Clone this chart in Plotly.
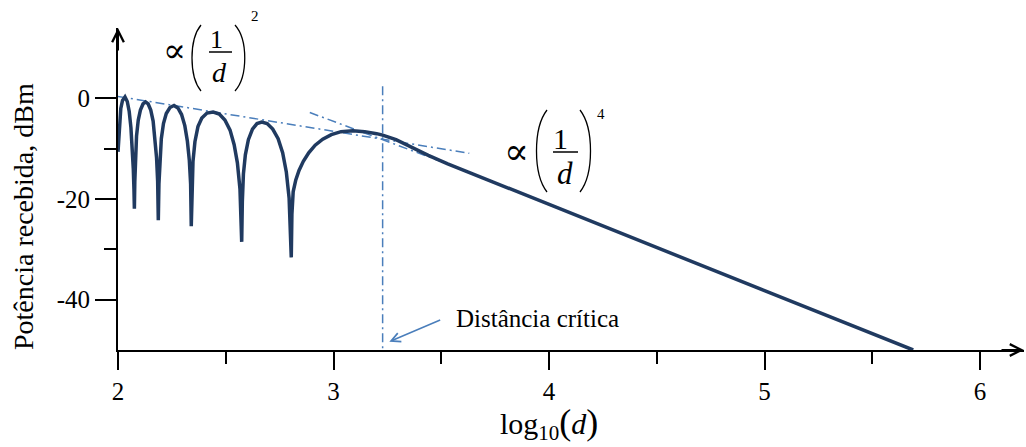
import plotly.graph_objects as go

# Received power vs log10(d): two-ray interference lobes, then the 1/d^4 fall-off
log_d = [
    2.000, 2.006, 2.013, 2.021, 2.0325, 2.043, 2.052, 2.060, 2.066, 2.071, 2.074, 2.076,
    2.078, 2.081, 2.086, 2.094, 2.104, 2.116, 2.128, 2.140, 2.152, 2.163, 2.172, 2.179, 2.184, 2.187,
    2.190, 2.194, 2.201, 2.211, 2.224, 2.241, 2.260, 2.278, 2.295, 2.310, 2.322, 2.331, 2.337, 2.340,
    2.343, 2.348, 2.357, 2.371, 2.389, 2.413, 2.442, 2.470, 2.496, 2.520, 2.539, 2.554, 2.566, 2.574,
    2.577, 2.582, 2.591, 2.605, 2.624, 2.645, 2.667, 2.692, 2.718, 2.743, 2.764, 2.781, 2.794, 2.804,
    2.807, 2.813, 2.825, 2.840, 2.860, 2.885, 2.915, 2.950, 2.990, 3.035, 3.090, 3.145, 3.200, 3.228,
    3.290, 3.360, 3.440, 3.530, 4.000, 5.000, 5.690,
]
potencia_dbm = [
    -10.6, -5.0, -2.0, -0.4, 0.3, -0.6, -2.6, -5.8, -9.5, -14.0, -18.0, -21.9,
    -16.5, -11.5, -7.5, -4.3, -2.3, -1.1, -0.7, -1.1, -2.3, -4.5, -7.8, -11.8, -16.5, -24.2,
    -17.0, -12.0, -8.0, -5.0, -3.0, -1.8, -1.4, -1.9, -3.2, -5.4, -8.5, -12.3, -17.0, -25.4,
    -17.5, -12.5, -8.6, -5.6, -3.9, -2.9, -2.7, -3.1, -4.3, -6.3, -9.2, -12.8, -18.0, -28.5,
    -20.5, -15.0, -11.2, -8.2, -6.1, -5.0, -4.7, -5.0, -6.1, -8.0, -10.8, -14.6, -19.8, -31.6,
    -23.0, -18.5, -16.2, -14.3, -12.5, -10.8, -9.3, -8.1, -7.2, -6.6, -6.4, -6.6, -7.0, -7.3,
    -8.2, -9.7, -11.3, -13.0, -21.1, -38.2, -50.0,
]

# Asymptotes: 1/d^2 envelope and 1/d^4 tangent
assint_d2_x = [2.0, 3.63]
assint_d2_y = [0.4, -10.9]
assint_d4_x = [2.89, 3.51]
assint_d4_y = [-2.8, -12.7]

# Critical distance marker
dist_critica = 3.228
dist_critica_y = [2.4, -50.0]

x_ticks = [2, 3, 4, 5, 6]
x_minor = [2.5, 3.5, 4.5, 5.5]
y_ticks = [0, -20, -40]
y_tick_text = ["0", "-20", "-40"]
y_minor = [-10, -30]

# Plot area in pixels
FIG_W, FIG_H = 1026, 447
L, R, T, B = 118, 1024, 28, 350
W, H = R - L, B - T
PX_PER_X = 215.5

SERIF = "Liberation Serif"
CURVE = "#203a60"
GUIDE = "#4a7ebb"
DASHDOT = "9px,4px,2px,4px"


def xp(px):
    return (px - L) / W


def yp(py):
    return (B - py) / H


def paren(x_end, x_out, y_top, y_bot):
    h = y_bot - y_top
    return (f"M{xp(x_end)},{yp(y_top)} "
            f"C{xp(x_out)},{yp(y_top + 0.22 * h)} {xp(x_out)},{yp(y_bot - 0.22 * h)} "
            f"{xp(x_end)},{yp(y_bot)}")


fig = go.Figure()

fig.add_trace(go.Scatter(
    x=assint_d2_x, y=assint_d2_y, mode="lines",
    line=dict(color=GUIDE, width=1.5, dash=DASHDOT), hoverinfo="skip"))
fig.add_trace(go.Scatter(
    x=assint_d4_x, y=assint_d4_y, mode="lines",
    line=dict(color=GUIDE, width=1.5, dash=DASHDOT), hoverinfo="skip"))
fig.add_trace(go.Scatter(
    x=[dist_critica, dist_critica], y=dist_critica_y, mode="lines",
    line=dict(color=GUIDE, width=1.5, dash=DASHDOT), hoverinfo="skip"))
fig.add_trace(go.Scatter(
    x=log_d, y=potencia_dbm, mode="lines",
    line=dict(color=CURVE, width=3.5), hoverinfo="skip"))

shapes = []
annotations = []


def text_at(px, py, text, size, family=SERIF, **kw):
    annotations.append(dict(
        xref="paper", yref="paper", x=xp(px), y=yp(py), text=text,
        showarrow=False, xanchor="center", yanchor="middle",
        font=dict(family=family, size=size, color="black"), **kw))


def fraction(prop_x, lp, rp, one, d, bar, sup, size):
    text_at(prop_x[0], prop_x[1], "\u221d", size + 6, family="DejaVu Serif")
    shapes.append(dict(type="path", xref="paper", yref="paper",
                       path=paren(*lp), line=dict(color="black", width=1.3)))
    shapes.append(dict(type="path", xref="paper", yref="paper",
                       path=paren(*rp), line=dict(color="black", width=1.3)))
    text_at(one[0], one[1], "1", one[2])
    text_at(d[0], d[1], "<i>d</i>", size)
    shapes.append(dict(type="line", xref="paper", yref="paper",
                       x0=xp(bar[0]), x1=xp(bar[1]), y0=yp(bar[2]), y1=yp(bar[2]),
                       line=dict(color="black", width=1.5)))
    text_at(sup[0], sup[1], sup[2], 15)


# proportional to (1/d)^2
fraction((174, 50), (201, 189, 25, 91), (235, 248, 25, 91),
         (216, 40, 26), (219, 72), (209, 232, 52), (255, 16, "2"), 28)
# proportional to (1/d)^4
fraction((516, 151), (547, 533, 110, 192), (580, 594, 110, 192),
         (560, 138, 30), (565, 173), (553, 578, 152), (601, 114, "4"), 31)

# Axis arrowheads
annotations.append(dict(xref="paper", yref="paper", x=0, y=1, ax=0, ay=24,
                        text="", showarrow=True, arrowhead=5, arrowsize=1.15,
                        arrowwidth=2, arrowcolor="black"))
annotations.append(dict(xref="paper", yref="paper", x=1, y=0, ax=-24, ay=0,
                        text="", showarrow=True, arrowhead=5, arrowsize=1.15,
                        arrowwidth=2, arrowcolor="black"))

# Critical distance label and arrow
annotations.append(dict(xref="x", yref="y", axref="x", ayref="y",
                        x=3.259, y=-48.35, ax=3.502, ay=-43.9,
                        text="", showarrow=True, arrowhead=5, arrowsize=1.2,
                        arrowwidth=1.5, arrowcolor=GUIDE))
text_at(537, 318, "Dist\u00e2ncia cr\u00edtica", 25)

# Axis titles
text_at(24, 217, "Pot\u00eancia recebida, dBm", 28, textangle=-90)
text_at(549, 424,
        'log<sub>10</sub><span style="font-size:36px">(</span>'
        '<i>d</i><span style="font-size:36px">)</span>', 30)

tick_font = dict(family=SERIF, size=25, color="black")

fig.update_layout(
    width=FIG_W, height=FIG_H,
    margin=dict(l=L, r=FIG_W - R, t=T, b=FIG_H - B, pad=0),
    paper_bgcolor="white", plot_bgcolor="white",
    font=dict(family=SERIF, color="black"),
    showlegend=False,
    shapes=shapes, annotations=annotations,
    xaxis=dict(
        range=[2, 2 + W / PX_PER_X], tickmode="array", tickvals=x_ticks,
        ticktext=[str(v) for v in x_ticks],
        ticks="outside", ticklen=18, tickwidth=2, tickcolor="black",
        minor=dict(tickmode="array", tickvals=x_minor, ticks="outside",
                   ticklen=12, tickwidth=2, tickcolor="black", showgrid=False),
        showline=True, linewidth=2, linecolor="black",
        showgrid=False, zeroline=False, tickfont=tick_font),
    yaxis=dict(
        range=[-50, 14], tickmode="array", tickvals=y_ticks, ticktext=y_tick_text,
        ticks="outside", ticklen=21, tickwidth=2, tickcolor="black",
        minor=dict(tickmode="array", tickvals=y_minor, ticks="outside",
                   ticklen=12, tickwidth=2, tickcolor="black", showgrid=False),
        showline=True, linewidth=2, linecolor="black",
        showgrid=False, zeroline=False, tickfont=tick_font),
)

fig.write_html("out.html")
